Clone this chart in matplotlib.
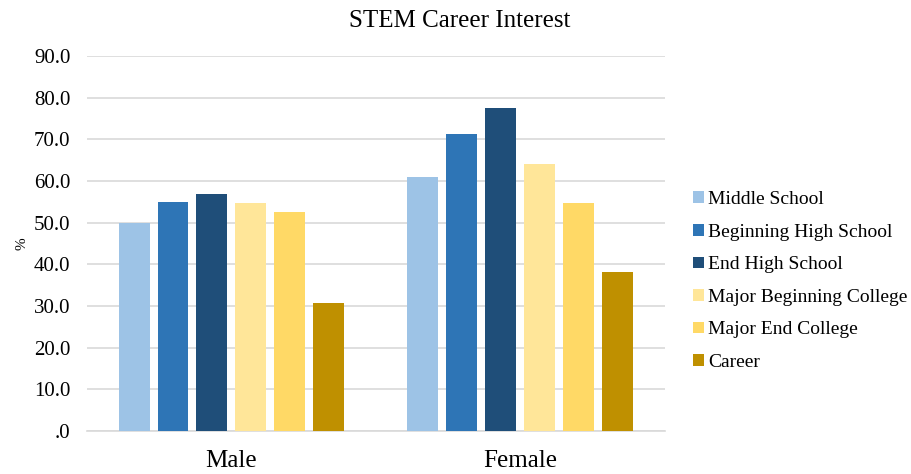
import numpy as np
import matplotlib.pyplot as plt

plt.rcParams["font.family"] = ["Liberation Serif", "DejaVu Serif"]

# data
groups = ["Male", "Female"]
series = ["Middle School", "Beginning High School", "End High School",
          "Major Beginning College", "Major End College", "Career"]
male = [49.8, 55.0, 56.9, 54.6, 52.6, 30.6]
female = [61.0, 71.3, 77.4, 64.1, 54.6, 38.2]
yticks = [0, 10, 20, 30, 40, 50, 60, 70, 80, 90]
ytick_labels = [".0", "10.0", "20.0", "30.0", "40.0", "50.0", "60.0", "70.0", "80.0", "90.0"]
colors = ["#9DC3E6", "#2E75B6", "#1F4E79", "#FFE699", "#FFD966", "#BF9000"]

fig = plt.figure(figsize=(9.11, 4.74), dpi=100)
ax = fig.add_axes([0.0955, 0.0907, 0.634, 0.7915])

x = np.arange(len(groups))
pitch = 0.1347
width = 0.107
for i, name in enumerate(series):
    vals = [male[i], female[i]]
    ax.bar(x + (i - 2.5) * pitch, vals, width=width, color=colors[i],
           label=name, zorder=3)

ax.set_xlim(-0.5, 1.5)
ax.set_ylim(0, 90)
ax.set_yticks(yticks)
ax.set_yticklabels(ytick_labels)
ax.set_xticks(x)
ax.set_xticklabels(groups)
ax.tick_params(axis="y", length=0, labelsize=15, pad=12)
ax.tick_params(axis="x", length=0, labelsize=18, pad=14)
ax.grid(axis="y", color="#D9D9D9", linewidth=1.2, zorder=0)
for s in ["top", "right", "left"]:
    ax.spines[s].set_visible(False)
ax.spines["bottom"].set_color("#D9D9D9")
ax.spines["bottom"].set_linewidth(1.2)

ax.set_ylabel("%", fontsize=11, labelpad=4)
fig.text(0.505, 0.955, "STEM Career Interest", ha="center", va="center", fontsize=18)

fig.legend(loc="center left", bbox_to_anchor=(0.752, 0.407), frameon=False,
           fontsize=14, handlelength=0.55, handleheight=0.55,
           handletextpad=0.25, labelspacing=0.8, borderaxespad=0)

plt.savefig("out.png", dpi=100)
plt.close()
